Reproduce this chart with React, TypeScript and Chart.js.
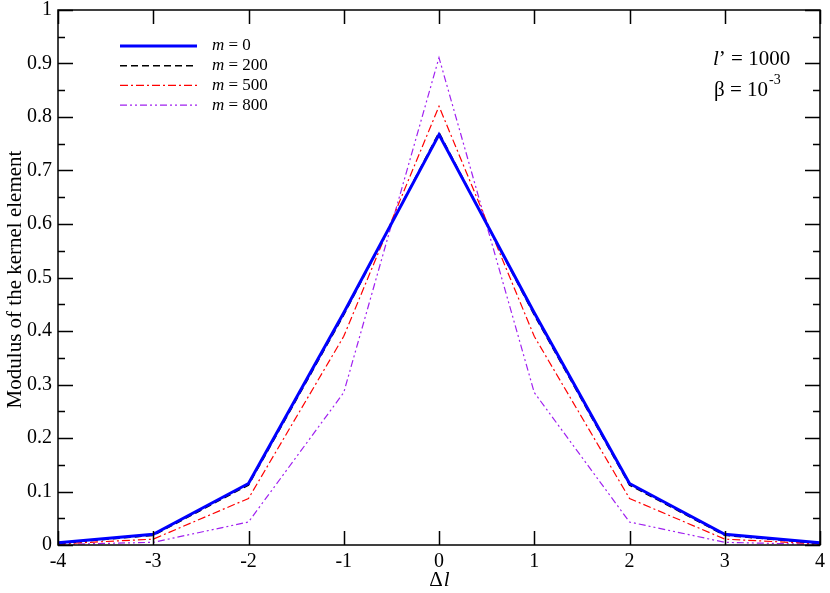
import React, { useEffect, useRef } from "react";
import { Chart, registerables } from "chart.js";

Chart.register(...registerables);

const deltaL = [-4, -3, -2, -1, 0, 1, 2, 3, 4];
const m0 = [0.004, 0.02, 0.115, 0.434, 0.767, 0.434, 0.115, 0.02, 0.004];
const m200 = [0.003, 0.018, 0.112, 0.43, 0.771, 0.43, 0.112, 0.018, 0.003];
const m500 = [0.002, 0.011, 0.087, 0.39, 0.82, 0.39, 0.087, 0.011, 0.002];
const m800 = [0.001, 0.005, 0.043, 0.285, 0.911, 0.285, 0.043, 0.005, 0.001];
const legendLabels = ["0", "200", "500", "800"];
const yTicks = [0, 0.1, 0.2, 0.3, 0.4, 0.5, 0.6, 0.7, 0.8, 0.9, 1];

const colors = ["#0000ff", "#000000", "#ff0000", "#a020f0"];
const widths = [3, 1.5, 1.2, 1.2];
const dashes: number[][] = [[], [7, 4], [8, 3, 2, 3], [7, 3, 2, 3, 2, 3]];

const SERIF = "'Liberation Serif', 'Times New Roman', serif";

const decor = {
  id: "decor",
  afterDraw(chart: any) {
    const { ctx, chartArea: a, scales } = chart;
    const xs = scales.x;
    const ys = scales.y;
    ctx.save();
    ctx.strokeStyle = "#000";
    ctx.lineWidth = 1.5;
    ctx.setLineDash([]);
    ctx.strokeRect(a.left, a.top, a.right - a.left, a.bottom - a.top);
    ctx.beginPath();
    for (let v = 0; v <= 1.0001; v += 0.05) {
      const y = Math.round(ys.getPixelForValue(v)) + 0.5;
      const major = Math.abs(v * 10 - Math.round(v * 10)) < 1e-6;
      const len = major ? 15 : 7;
      ctx.moveTo(a.left, y);
      ctx.lineTo(a.left + len, y);
      ctx.moveTo(a.right, y);
      ctx.lineTo(a.right - len, y);
    }
    for (const v of deltaL) {
      const x = Math.round(xs.getPixelForValue(v)) + 0.5;
      ctx.moveTo(x, a.bottom);
      ctx.lineTo(x, a.bottom - 14);
      ctx.moveTo(x, a.top);
      ctx.lineTo(x, a.top + 14);
    }
    ctx.stroke();

    // legend
    ctx.textBaseline = "middle";
    ctx.textAlign = "left";
    legendLabels.forEach((lab, i) => {
      const y = 46 + i * 19.7;
      ctx.beginPath();
      ctx.strokeStyle = colors[i];
      ctx.lineWidth = widths[i];
      ctx.setLineDash(dashes[i]);
      ctx.moveTo(120, y);
      ctx.lineTo(197, y);
      ctx.stroke();
      ctx.setLineDash([]);
      ctx.fillStyle = "#000";
      ctx.font = `italic 17px ${SERIF}`;
      ctx.fillText("m", 212, y);
      const w = ctx.measureText("m").width;
      ctx.font = `17px ${SERIF}`;
      ctx.fillText(" = " + lab, 212 + w, y);
    });

    // annotation
    ctx.textBaseline = "alphabetic";
    ctx.fillStyle = "#000";
    ctx.font = `italic 21px ${SERIF}`;
    ctx.fillText("l", 713, 65);
    let wx = 713 + ctx.measureText("l").width;
    ctx.font = `21px ${SERIF}`;
    ctx.fillText("’ = 1000", wx, 65);
    ctx.fillText("β = 10", 714, 96);
    wx = 714 + ctx.measureText("β = 10").width;
    ctx.font = `14px ${SERIF}`;
    ctx.fillText("-3", wx + 1, 84);

    // x title
    ctx.font = `21px ${SERIF}`;
    const dw = ctx.measureText("Δ").width;
    ctx.font = `italic 21px ${SERIF}`;
    const lw = ctx.measureText("l").width;
    const cx = (a.left + a.right) / 2 - (dw + lw) / 2;
    ctx.font = `21px ${SERIF}`;
    ctx.fillText("Δ", cx, 586);
    ctx.font = `italic 21px ${SERIF}`;
    ctx.fillText("l", cx + dw + 1, 586);

    // y title
    ctx.translate(21, (a.top + a.bottom) / 2 + 2);
    ctx.rotate(-Math.PI / 2);
    ctx.textAlign = "center";
    ctx.font = `21px ${SERIF}`;
    ctx.fillText("Modulus of the kernel element", 0, 0);
    ctx.restore();
  },
};

export default function App() {
  const ref = useRef<HTMLCanvasElement>(null);
  useEffect(() => {
    if (!ref.current) return;
    const series = [m0, m200, m500, m800];
    const chart = new Chart(ref.current, {
      type: "line",
      data: {
        datasets: series.map((s, i) => ({
          label: "m = " + legendLabels[i],
          data: s.map((v, j) => ({ x: deltaL[j], y: v })),
          borderColor: colors[i],
          borderWidth: widths[i],
          borderDash: dashes[i],
          pointRadius: 0,
          fill: false,
          tension: 0,
        })),
      },
      options: {
        animation: false,
        responsive: false,
        layout: { padding: { top: 10, right: 7, left: 0, bottom: 0 } },
        plugins: { legend: { display: false }, tooltip: { enabled: false } },
        scales: {
          x: {
            type: "linear",
            min: -4,
            max: 4,
            afterBuildTicks: (s: any) => {
              s.ticks = deltaL.map((v) => ({ value: v }));
            },
            afterFit: (s: any) => {
              s.height = 48;
            },
            grid: { display: false, drawTicks: false },
            border: { display: false },
            ticks: {
              color: "#000",
              font: { family: SERIF, size: 20 },
              padding: 5,
              maxRotation: 0,
              callback: (v: any) => String(v),
            },
          },
          y: {
            type: "linear",
            min: 0,
            max: 1,
            afterBuildTicks: (s: any) => {
              s.ticks = yTicks.map((v) => ({ value: v }));
            },
            afterFit: (s: any) => {
              s.width = 58;
            },
            grid: { display: false, drawTicks: true, tickLength: 6, color: "rgba(0,0,0,0)" },
            border: { display: false },
            ticks: {
              color: "#000",
              font: { family: SERIF, size: 20, lineHeight: 1 },
              padding: 0,
              callback: (v: any) => String(Number(Number(v).toFixed(1))),
            },
          },
        },
      },
      plugins: [decor],
    });
    return () => chart.destroy();
  }, []);
  return (
    <div style={{ position: "absolute", left: 0, top: 0, width: 830, height: 593, background: "#fff" }}>
      <canvas ref={ref} width={830} height={593} />
    </div>
  );
}
